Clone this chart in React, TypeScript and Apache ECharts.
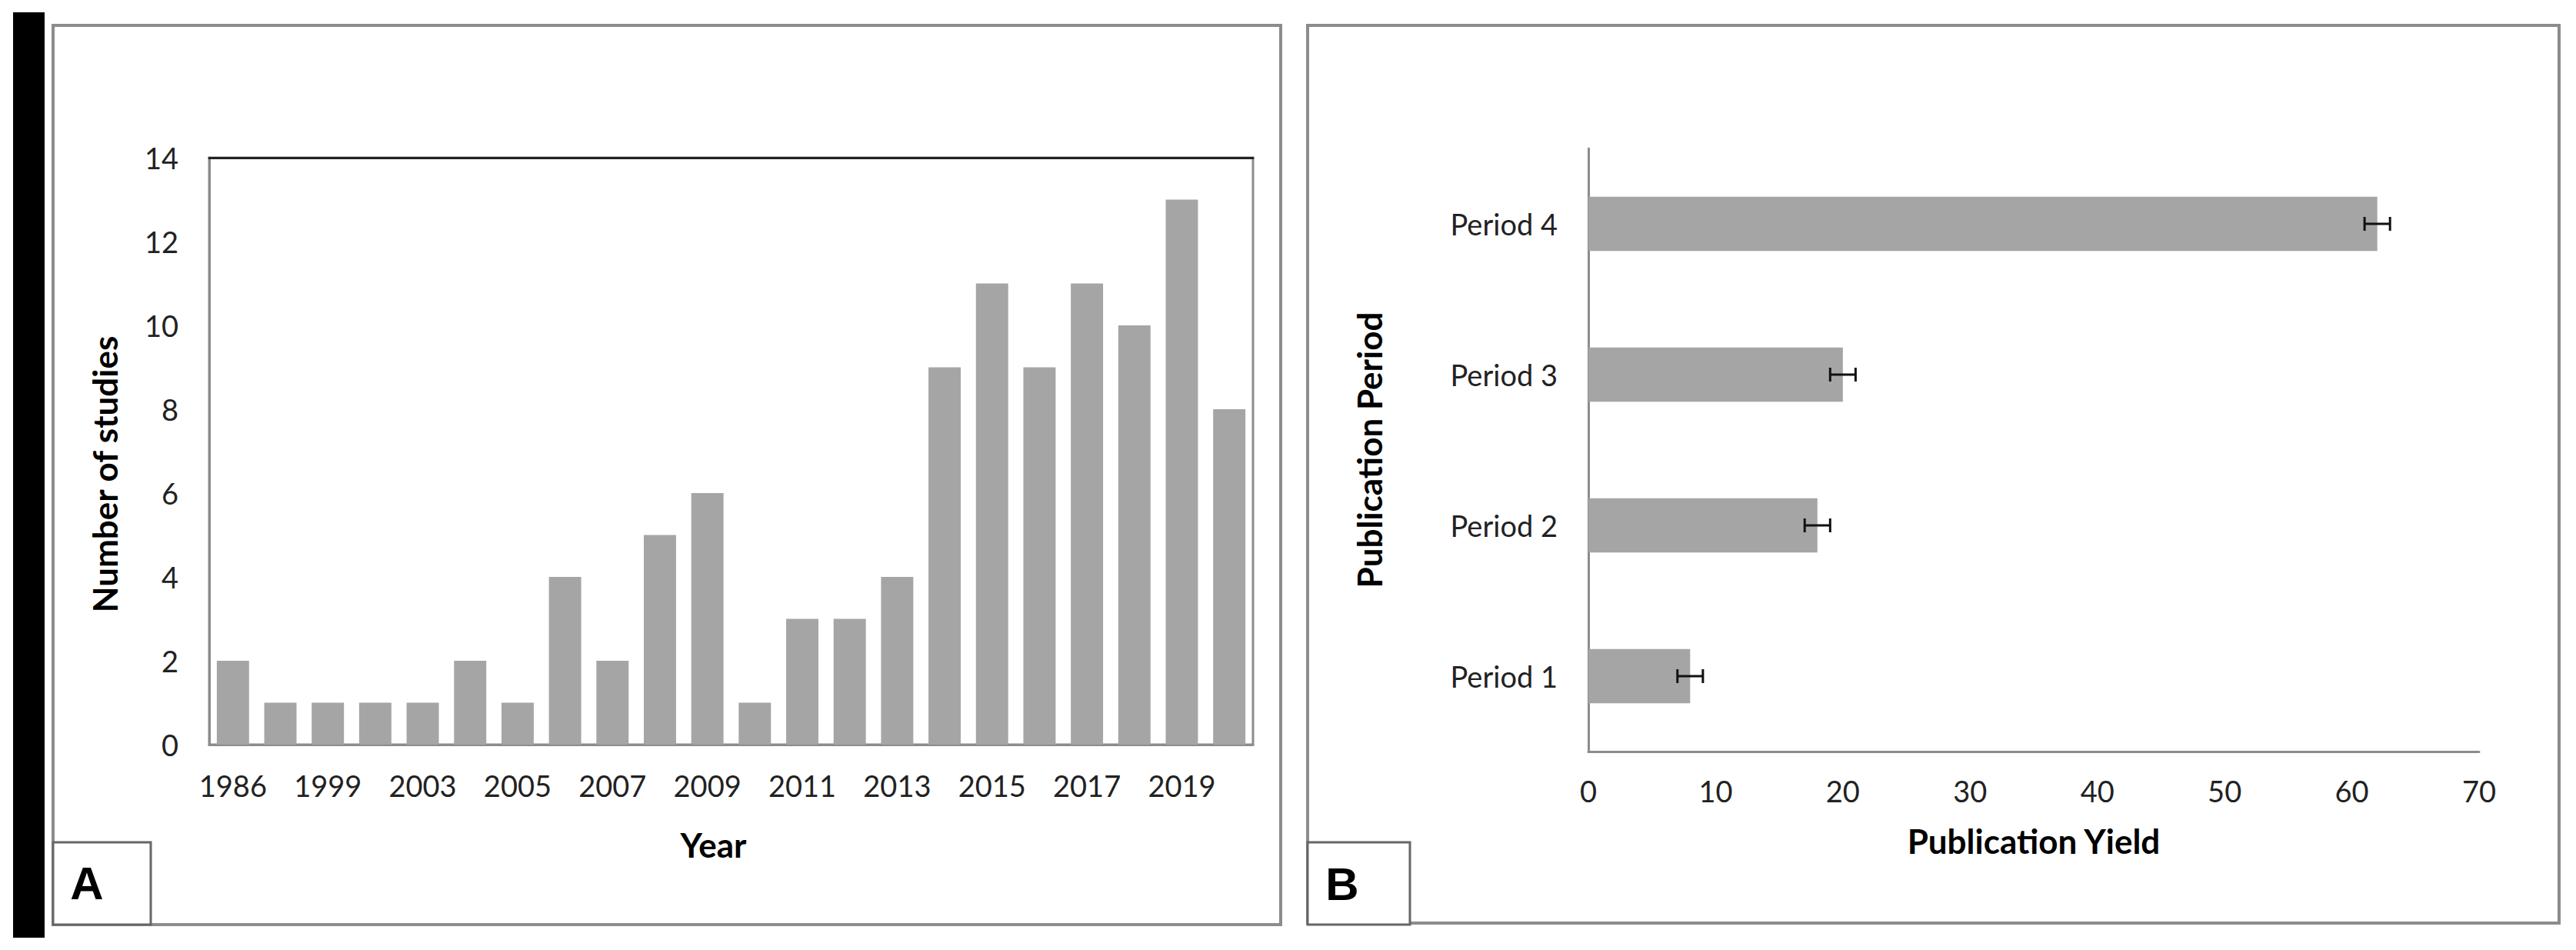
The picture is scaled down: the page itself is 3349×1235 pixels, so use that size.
import React, { useEffect, useRef } from "react";
import * as echarts from "echarts";

const yearCategories = [
  "1986", "1996", "1999", "2001", "2003", "2004", "2005", "2006", "2007", "2008", "2009",
  "2010", "2011", "2012", "2013", "2014", "2015", "2016", "2017", "2018", "2019", "2020",
];
const studyCounts = [2, 1, 1, 1, 1, 2, 1, 4, 2, 5, 6, 1, 3, 3, 4, 9, 11, 9, 11, 10, 13, 8];
const yTicksA = { min: 0, max: 14, interval: 2 };

const periodCategories = ["Period 1", "Period 2", "Period 3", "Period 4"];
const publicationYield = [8, 18, 20, 62];
const yieldError = [1, 1, 1, 1];
const xTicksB = { min: 0, max: 70, interval: 10 };

const TICK_FONT = "Lato, 'Liberation Sans', sans-serif";
const GREY_LINE = "#8c8c8c";
const BAR_COLOR = "#a5a5a5";

export default function App() {
  const ref = useRef<HTMLDivElement>(null);

  useEffect(() => {
    if (!ref.current) return;
    const chart = echarts.init(ref.current, undefined, { renderer: "svg" });

    const errData = publicationYield.map((v, i) => [
      v,
      v - yieldError[i],
      v + yieldError[i],
      i,
    ]);

    const tickLabel = {
      fontSize: 38,
      fontFamily: TICK_FONT,
      color: "#222",
    };
    const nameStyle = {
      fontSize: 44,
      fontWeight: "bold" as const,
      fontFamily: TICK_FONT,
      color: "#000",
    };

    chart.setOption({
      animation: false,
      backgroundColor: "#ffffff",
      grid: [
        {
          left: 272,
          top: 205,
          width: 1357,
          height: 763,
          show: true,
          borderColor: GREY_LINE,
          borderWidth: 3,
          backgroundColor: "transparent",
        },
        { left: 2065, top: 193, width: 1158, height: 784 },
      ],
      xAxis: [
        {
          type: "category",
          gridIndex: 0,
          data: yearCategories,
          axisLine: { show: true, lineStyle: { color: GREY_LINE, width: 3 } },
          axisTick: { show: false },
          axisLabel: { ...tickLabel, interval: 1, margin: 34 },
          name: "Year",
          nameLocation: "middle",
          nameGap: 108,
          nameTextStyle: { ...nameStyle, padding: [0, 46, 0, 0] },
        },
        {
          type: "category",
          gridIndex: 0,
          position: "top",
          data: yearCategories,
          axisLine: { show: true, lineStyle: { color: "#222", width: 3 } },
          axisTick: { show: false },
          axisLabel: { show: false },
        },
        {
          type: "value",
          gridIndex: 1,
          min: xTicksB.min,
          max: xTicksB.max,
          interval: xTicksB.interval,
          axisLine: { show: true, lineStyle: { color: GREY_LINE, width: 3 } },
          axisTick: { show: false },
          splitLine: { show: false },
          axisLabel: { ...tickLabel, margin: 32 },
          name: "Publication Yield",
          nameLocation: "middle",
          nameGap: 94,
          nameTextStyle: nameStyle,
        },
      ],
      yAxis: [
        {
          type: "value",
          gridIndex: 0,
          min: yTicksA.min,
          max: yTicksA.max,
          interval: yTicksA.interval,
          axisLine: { show: true, lineStyle: { color: GREY_LINE, width: 3 } },
          axisTick: { show: false },
          splitLine: { show: false },
          axisLabel: { ...tickLabel, margin: 40 },
          name: "Number of studies",
          nameLocation: "middle",
          nameGap: 114,
          nameTextStyle: { ...nameStyle, padding: [0, 60, 0, 0] },
        },
        {
          type: "category",
          gridIndex: 1,
          data: periodCategories,
          axisLine: { show: true, lineStyle: { color: GREY_LINE, width: 3 } },
          axisTick: { show: false },
          axisLabel: { ...tickLabel, margin: 40 },
          name: "Publication Period",
          nameLocation: "middle",
          nameGap: 263,
          nameTextStyle: nameStyle,
        },
      ],
      series: [
        {
          type: "bar",
          xAxisIndex: 0,
          yAxisIndex: 0,
          data: studyCounts,
          barCategoryGap: "32%",
          itemStyle: { color: BAR_COLOR },
        },
        {
          type: "bar",
          xAxisIndex: 2,
          yAxisIndex: 1,
          data: publicationYield,
          barCategoryGap: "64%",
          itemStyle: { color: BAR_COLOR },
        },
        {
          type: "custom",
          xAxisIndex: 2,
          yAxisIndex: 1,
          data: errData,
          encode: { x: [1, 2], y: 3 },
          z: 5,
          renderItem: (params: any, api: any) => {
            const cat = api.value(3);
            const lo = api.coord([api.value(1), cat]);
            const hi = api.coord([api.value(2), cat]);
            const cap = 9;
            const style = { stroke: "#111", lineWidth: 3 };
            return {
              type: "group",
              children: [
                { type: "line", shape: { x1: lo[0], y1: lo[1], x2: hi[0], y2: hi[1] }, style },
                { type: "line", shape: { x1: lo[0], y1: lo[1] - cap, x2: lo[0], y2: lo[1] + cap }, style },
                { type: "line", shape: { x1: hi[0], y1: hi[1] - cap, x2: hi[0], y2: hi[1] + cap }, style },
              ],
            };
          },
        },
      ],
      graphic: [
        { type: "rect", shape: { x: 17, y: 16, width: 41, height: 1203 }, style: { fill: "#000" } },
        {
          type: "rect",
          shape: { x: 69, y: 33, width: 1596, height: 1169 },
          style: { fill: "none", stroke: GREY_LINE, lineWidth: 4 },
          z: -1,
        },
        {
          type: "rect",
          shape: { x: 1700, y: 33, width: 1627, height: 1167 },
          style: { fill: "none", stroke: GREY_LINE, lineWidth: 4 },
          z: -1,
        },
        {
          type: "rect",
          shape: { x: 69, y: 1095, width: 127, height: 107 },
          style: { fill: "#fff", stroke: "#666", lineWidth: 3 },
        },
        {
          type: "text",
          x: 113,
          y: 1148,
          style: {
            text: "A",
            fontSize: 60,
            fontWeight: "bold",
            fontFamily: "'Liberation Sans', Arial, sans-serif",
            fill: "#000",
            align: "center",
            verticalAlign: "middle",
          },
        },
        {
          type: "rect",
          shape: { x: 1700, y: 1095, width: 133, height: 107 },
          style: { fill: "#fff", stroke: "#666", lineWidth: 3 },
        },
        {
          type: "text",
          x: 1745,
          y: 1149,
          style: {
            text: "B",
            fontSize: 60,
            fontWeight: "bold",
            fontFamily: "'Liberation Sans', Arial, sans-serif",
            fill: "#000",
            align: "center",
            verticalAlign: "middle",
          },
        },
      ],
    });

    return () => chart.dispose();
  }, []);

  return (
    <div
      ref={ref}
      style={{
        position: "fixed",
        left: 0,
        top: 0,
        width: "3349px",
        height: "1235px",
        background: "#fff",
      }}
    />
  );
}
